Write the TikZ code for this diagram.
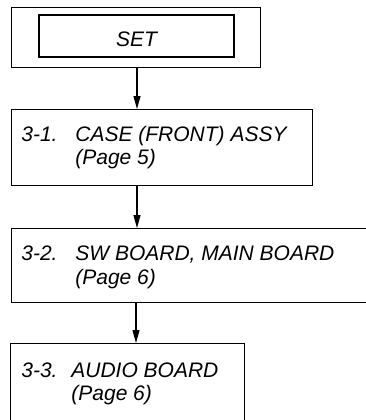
\documentclass[tikz,border=0pt]{standalone}
\usepackage{fontspec}
\setmainfont{Liberation Sans}
\usetikzlibrary{positioning,arrows.meta}

\begin{document}
\begin{tikzpicture}[x=0.5pt,y=-0.5pt,>={Triangle[length=6.5pt,width=3.5pt]},
  box/.style={draw,line width=0.6pt,anchor=north west,inner sep=0pt},
  txt/.style={font=\fontsize{10.5}{11.8}\selectfont\itshape},
  lbl/.style={txt,anchor=base west,inner sep=0pt},
  link/.style={->,line width=0.6pt}]

% page frame
\useasboundingbox (0,0) rectangle (366,420);
\clip (0,0) rectangle (366,420);

% axis of the arrows
\coordinate (axis) at (137,0);

%------------------------
% SET
%------------------------
\node[box,minimum width=124.5pt,minimum height=30pt] (setout) at (11,7) {};
\node[draw,line width=0.6pt,txt,inner sep=0pt,minimum width=97.5pt,minimum height=21pt,
  text height=10.8pt,text depth=0pt] (set) at (136.5,36) {SET};

%------------------------
% Boxes
%------------------------
\node[box,minimum width=150.5pt,minimum height=38pt] (case) at (11,109) {};
\node[box,minimum width=190pt,minimum height=37pt] (main) at (11,228) {};
\node[box,minimum width=117pt,minimum height=45pt] (audio) at (10,343) {};

%------------------------
% Labels
%------------------------
\node[lbl] (casetxt) at (21,141)
  {\begin{tabular}[t]{@{}p{27pt}@{}l@{}}3-1. & CASE (FRONT) ASSY\\ & (Page 5)\end{tabular}};
\node[lbl] (maintxt) at (21,260.5)
  {\begin{tabular}[t]{@{}p{27pt}@{}l@{}}3-2. & SW BOARD, MAIN BOARD\\ & (Page 6)\end{tabular}};
\node[lbl] (audiotxt) at (21,377)
  {\begin{tabular}[t]{@{}p{25pt}@{}l@{}}3-3. & AUDIO BOARD\\ & (Page 6)\end{tabular}};

%------------------------
% Arrows
%------------------------
\draw[link] (setout.south -| axis) -- (case.north -| axis);
\draw[link] (case.south -| axis) -- (main.north -| axis);
\draw[link] ([xshift=-0.5pt]main.south -| axis) -- ([xshift=-0.5pt]audio.north -| axis);

\end{tikzpicture}
\end{document}
